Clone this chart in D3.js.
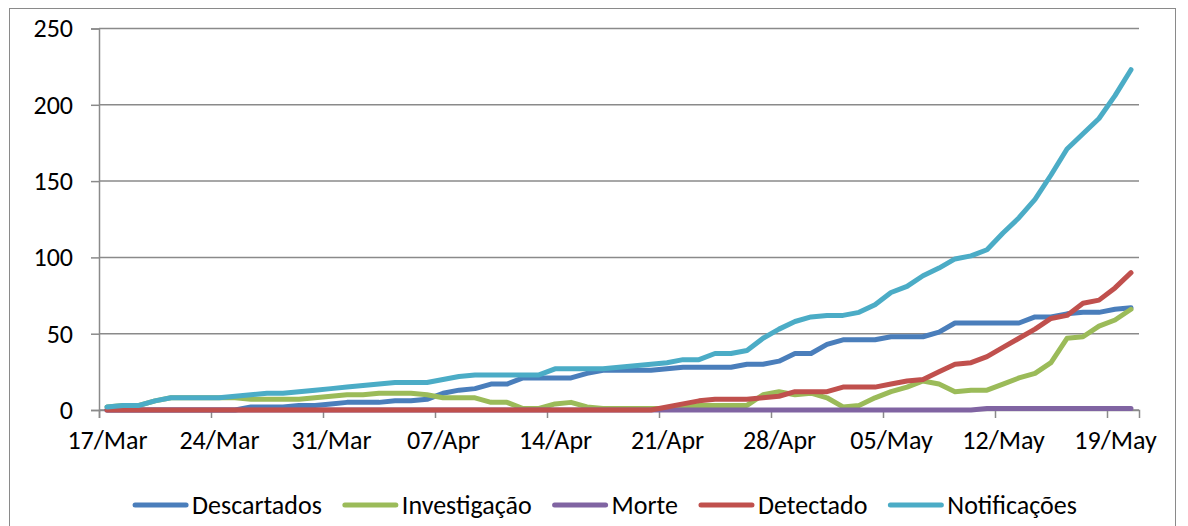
<!DOCTYPE html>
<head>
  <meta charset="utf-8">
  <title>Notificações</title>
  <style>
    body {
      margin: 0;
      padding: 0;
      background-color: #fff;
    }
    text {
      font-family: Carlito, Calibri, Lato, sans-serif;
      font-size: 26px;
      fill: #000;
    }
    .grid line {
      stroke: #8a8a8a;
      stroke-width: 1.5;
    }
    .series {
      fill: none;
      stroke-width: 5;
      stroke-linejoin: round;
      stroke-linecap: round;
    }
  </style>
</head>
<body>
  <div id="vis"></div>

  <script src="https://cdn.jsdelivr.net/npm/d3@7"></script>
  <script>
    // daily values from 17/Mar to 20/May
    var startDay = "2020-03-17";

    var descartados = [0,0,0,0,0,0,0,0,0,2, 2,2,3,3,4,5,5,5,6,6,
      7,11,13,14,17,17,21,21,21,21, 24,26,26,26,26,27,28,28,28,28,
      30,30,32,37,37,43,46,46,46,48, 48,48,51,57,57,57,57,57,61,61,
      63,64,64,66,67];

    var investigacao = [2,3,3,6,8,8,8,8,8,7, 7,7,7,8,9,10,10,11,11,11,
      10,8,8,8,5,5,1,1,4,5, 2,1,1,1,1,1,2,3,3,3,
      3,10,12,10,11,8,2,3,8,12, 15,19,17,12,13,13,17,21,24,31,
      47,48,55,59,66];

    var morte = [0,0,0,0,0,0,0,0,0,0, 0,0,0,0,0,0,0,0,0,0,
      0,0,0,0,0,0,0,0,0,0, 0,0,0,0,0,0,0,0,0,0,
      0,0,0,0,0,0,0,0,0,0, 0,0,0,0,0,1,1,1,1,1,
      1,1,1,1,1];

    var detectado = [0,0,0,0,0,0,0,0,0,0, 0,0,0,0,0,0,0,0,0,0,
      0,0,0,0,0,0,0,0,0,0, 0,0,0,0,0,2,4,6,7,7,
      7,8,9,12,12,12,15,15,15,17, 19,20,25,30,31,35,41,47,53,60,
      62,70,72,80,90];

    var notificacoes = [2,3,3,6,8,8,8,8,9,10, 11,11,12,13,14,15,16,17,18,18,
      18,20,22,23,23,23,23,23,27,27, 27,27,28,29,30,31,33,33,37,37,
      39,47,53,58,61,62,62,64,69,77, 81,88,93,99,101,105,116,126,138,154,
      171,181,191,206,223];

    var seriesNames = ["Descartados", "Investigação", "Morte", "Detectado", "Notificações"];
    var seriesColors = ["#4a7ebb", "#9bbb59", "#8064a2", "#c0504d", "#4bacc6"];
    var yTicks = [0, 50, 100, 150, 200, 250];

    var width = 1188, height = 526;
    var plot = {left: 99, right: 1139, top: 28.5, bottom: 410};
    var fontCss = "Carlito, Calibri, Lato, sans-serif";

    var parse = d3.utcParse("%Y-%m-%d");
    var fmt = d3.utcFormat("%d/%b");
    var first = parse(startDay);
    var days = descartados.map(function(v, i) { return d3.utcDay.offset(first, i); });
    var lastEdge = d3.utcDay.offset(first, days.length);
    var halfDay = 12 * 3600 * 1000;

    var x = d3.scaleUtc()
      .domain([first, lastEdge])
      .range([plot.left, plot.right]);

    var y = d3.scaleLinear()
      .domain([0, 250])
      .range([plot.bottom, plot.top]);

    var svg = d3.select("#vis").append("svg")
      .attr("width", width)
      .attr("height", height)
      .style("display", "block");

    svg.append("rect")
      .attr("x", 9.5).attr("y", 8.5)
      .attr("width", 1166).attr("height", 560)
      .attr("fill", "#fff")
      .attr("stroke", "#8a8a8a")
      .attr("stroke-width", 1);

    // horizontal gridlines
    svg.append("g")
      .attr("class", "grid")
      .selectAll("line")
      .data(yTicks)
      .enter().append("line")
        .attr("x1", plot.left)
        .attr("x2", plot.right)
        .attr("y1", function(d) { return y(d); })
        .attr("y2", function(d) { return y(d); });

    // y axis
    var yAxis = svg.append("g")
      .attr("transform", "translate(" + plot.left + ",0)")
      .call(d3.axisLeft(y).tickValues(yTicks).tickSize(8).tickPadding(18));
    yAxis.select(".domain").attr("stroke", "#8a8a8a").attr("stroke-width", 1.5);
    yAxis.selectAll(".tick line").attr("stroke", "#8a8a8a").attr("stroke-width", 1.5);
    yAxis.selectAll("text")
      .attr("fill", "#000")
      .style("font-size", "26px")
      .style("font-family", fontCss);

    // x axis, ticks every 7 days, labels centred in the day slot
    var xTickDays = d3.range(0, days.length, 7).map(function(i) { return days[i]; });
    var xAxis = svg.append("g")
      .attr("transform", "translate(0," + plot.bottom + ")")
      .call(d3.axisBottom(x).tickValues(xTickDays).tickFormat(fmt).tickSize(8).tickPadding(13));
    xAxis.select(".domain").attr("stroke", "#8a8a8a").attr("stroke-width", 1.5);
    xAxis.selectAll(".tick line").attr("stroke", "#8a8a8a").attr("stroke-width", 1.5);
    xAxis.selectAll("text")
      .attr("x", x(new Date(first.getTime() + halfDay)) - x(first))
      .attr("fill", "#000")
      .style("font-size", "26px")
      .style("font-family", fontCss);

    // lines
    var allSeries = [descartados, investigacao, morte, detectado, notificacoes];
    var line = d3.line()
      .x(function(d, i) { return x(new Date(days[i].getTime() + halfDay)); })
      .y(function(d) { return y(d); });

    svg.append("g")
      .selectAll("path")
      .data(allSeries)
      .enter().append("path")
        .attr("class", "series")
        .attr("stroke", function(d, i) { return seriesColors[i]; })
        .attr("d", line);

    // legend
    var legend = svg.append("g").attr("class", "legend");
    var swatch = 55, gapText = 4, gapItem = 21, legendY = 505;
    var items = legend.selectAll("g")
      .data(seriesNames)
      .enter().append("g");
    items.append("line")
      .attr("x1", 2).attr("x2", swatch - 2)
      .attr("y1", legendY).attr("y2", legendY)
      .attr("stroke", function(d, i) { return seriesColors[i]; })
      .attr("stroke-width", 5)
      .attr("stroke-linecap", "round");
    items.append("text")
      .attr("x", swatch + gapText)
      .attr("y", legendY)
      .attr("dy", "0.35em")
      .text(function(d) { return d; });

    var offsets = [], pos = 0;
    items.each(function() {
      offsets.push(pos);
      var w = d3.select(this).select("text").node().getComputedTextLength();
      pos += swatch + gapText + w + gapItem;
    });
    var total = pos - gapItem;
    var legendStart = 605 - total / 2;
    items.attr("transform", function(d, i) { return "translate(" + (legendStart + offsets[i]) + ",0)"; });
  </script>
</body>
